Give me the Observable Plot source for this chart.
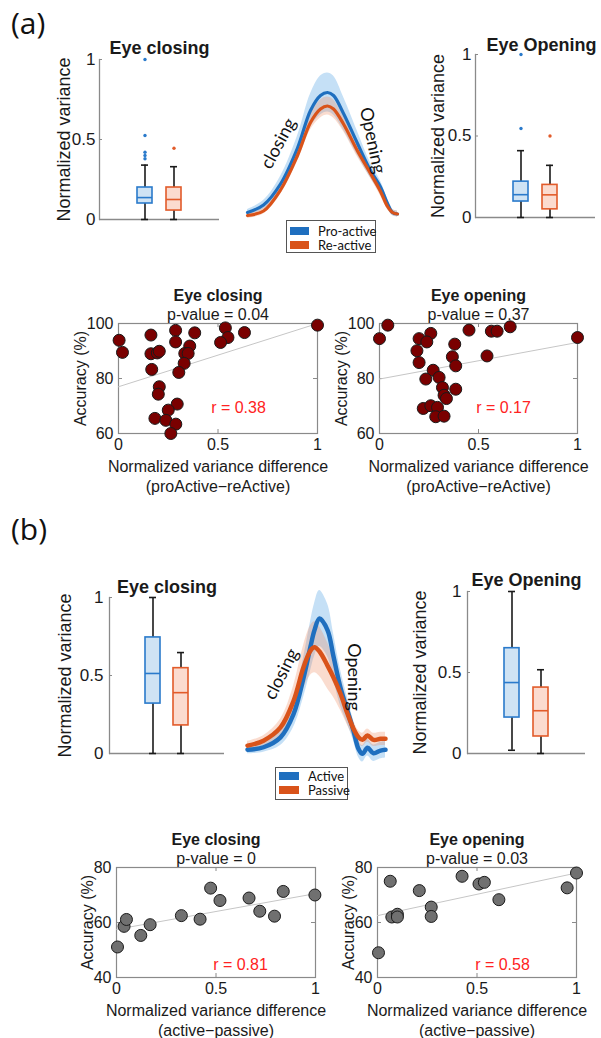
<!DOCTYPE html>
<html><head><meta charset="utf-8">
<script src="https://cdn.jsdelivr.net/npm/d3@7"></script>
<script src="https://cdn.jsdelivr.net/npm/@observablehq/plot@0.6"></script>
<style>
body{margin:0;background:#fff;}
#fig{position:relative;width:601px;height:1038px;overflow:hidden;background:#fff;font-family:"Liberation Sans",Arial,sans-serif;}
.plabel{position:absolute;font-family:"Open Sans",sans-serif;font-size:30px;line-height:30px;color:#111;}
.legend{position:absolute;border:1px solid #555;background:#fff;box-sizing:border-box;font-family:Lato,sans-serif;font-size:13px;color:#111;}
.legend .sw{position:absolute;height:8px;}
.legend .tx{position:absolute;line-height:14px;white-space:nowrap;}
</style></head>
<body><div id="fig"></div>
<script>
// ---------------- DATA ----------------
// (a) groups
const groupsA = ["Pro-active", "Re-active"];
// (a) Eye closing box statistics
const aCloseQ1 = [0.100, 0.056];
const aCloseMedian = [0.137, 0.125];
const aCloseQ3 = [0.200, 0.200];
const aCloseLow = [0, 0];
const aCloseHigh = [0.34, 0.33];
const aCloseOutPro = [0.38, 0.40, 0.42, 0.525, 1.0];
const aCloseOutRe = [0.445];
// (a) Eye Opening box statistics
const aOpenQ1 = [0.098, 0.050];
const aOpenMedian = [0.140, 0.139];
const aOpenQ3 = [0.220, 0.200];
const aOpenLow = [0, 0];
const aOpenHigh = [0.41, 0.32];
const aOpenOutPro = [0.546, 1.0];
const aOpenOutRe = [0.50];
// (a) mean eyelid trace
const aTime = [0, 16, 33, 50, 63, 73, 80, 86, 96, 110, 123, 133, 140, 145, 150];
const aProMean = [0.02, 0.07, 0.21, 0.45, 0.70, 0.80, 0.82, 0.80, 0.68, 0.48, 0.30, 0.19, 0.08, 0.02, 0.01];
const aProSpread = [0.02, 0.03, 0.05, 0.08, 0.11, 0.13, 0.13, 0.13, 0.11, 0.08, 0.05, 0.04, 0.03, 0.02, 0.02];
const aReMean = [0.00, 0.03, 0.17, 0.40, 0.62, 0.71, 0.73, 0.71, 0.61, 0.43, 0.28, 0.16, 0.06, 0.02, 0.01];
const aReSpread = [0.02, 0.02, 0.03, 0.04, 0.05, 0.06, 0.06, 0.06, 0.05, 0.04, 0.03, 0.03, 0.02, 0.02, 0.02];
// (a) scatter: Eye closing
const aCloseDiff = [0.003, 0.02, 0.163, 0.163, 0.195, 0.205, 0.167, 0.287, 0.287, 0.383, 0.358, 0.333, 0.35, 0.33, 0.303, 0.537, 0.55, 0.513, 0.633, 1.0, 0.205, 0.2, 0.295, 0.25, 0.183, 0.238, 0.288, 0.263];
const aCloseAcc = [93.9, 89.5, 95.8, 89.0, 89.3, 89.9, 83.3, 97.5, 93.3, 96.6, 91.8, 89.1, 89.1, 85.5, 82.2, 98.4, 94.9, 93.1, 96.7, 99.4, 77.0, 74.3, 70.7, 68.5, 65.5, 64.8, 63.4, 60.0];
const aCloseFitX = [0, 1];
const aCloseFitY = [77.0, 100.0];
// (a) scatter: Eye opening
const aOpenDiff = [0, 0.042, 0.2, 0.259, 0.239, 0.189, 0.2, 0.38, 0.368, 0.385, 0.452, 0.565, 0.594, 0.66, 0.543, 1.0, 0.271, 0.234, 0.301, 0.318, 0.385, 0.326, 0.338, 0.221, 0.259, 0.293, 0.284, 0.326];
const aOpenAcc = [94.5, 99.4, 94.5, 96.4, 93.3, 90.1, 85.8, 92.5, 87.9, 84.6, 97.6, 97.2, 97.2, 98.8, 88.2, 94.9, 83.0, 79.8, 80.4, 76.7, 76.1, 73.9, 72.7, 69.1, 70.1, 69.5, 66.1, 66.3];
const aOpenFitX = [0, 1];
const aOpenFitY = [79.8, 93.1];

// (b) groups
const groupsB = ["Active", "Passive"];
const bCloseQ1 = [0.32, 0.18];
const bCloseMedian = [0.513, 0.39];
const bCloseQ3 = [0.744, 0.547];
const bCloseLow = [0, 0];
const bCloseHigh = [1.0, 0.647];
const bOpenQ1 = [0.222, 0.105];
const bOpenMedian = [0.438, 0.264];
const bOpenQ3 = [0.65, 0.407];
const bOpenLow = [0.02, 0];
const bOpenHigh = [1.0, 0.517];
// (b) mean eyelid trace
const bTime = [0, 16, 33, 46, 56, 63, 67, 72, 80, 86, 93, 100, 106, 111, 115, 120, 126, 133, 138];
const bActiveMean = [0.035, 0.05, 0.11, 0.25, 0.47, 0.66, 0.76, 0.83, 0.76, 0.60, 0.41, 0.27, 0.15, 0.04, 0.01, 0.047, 0.014, 0.03, 0.035];
const bActiveSpread = [0.025, 0.03, 0.05, 0.08, 0.12, 0.15, 0.16, 0.17, 0.16, 0.14, 0.11, 0.08, 0.06, 0.05, 0.05, 0.05, 0.05, 0.05, 0.05];
const bPassiveMean = [0.06, 0.09, 0.17, 0.33, 0.535, 0.636, 0.656, 0.63, 0.545, 0.473, 0.374, 0.253, 0.162, 0.111, 0.095, 0.121, 0.095, 0.101, 0.101];
const bPassiveSpread = [0.025, 0.03, 0.05, 0.09, 0.13, 0.15, 0.155, 0.15, 0.14, 0.12, 0.10, 0.07, 0.05, 0.04, 0.04, 0.04, 0.04, 0.04, 0.04];
// (b) scatter
const bCloseDiff = [0.005, 0.038, 0.05, 0.122, 0.169, 0.326, 0.42, 0.473, 0.52, 0.666, 0.72, 0.794, 0.838, 0.997];
const bCloseAcc = [51.1, 58.6, 61.1, 55.3, 59.2, 62.5, 61.2, 72.5, 68.0, 68.9, 64.1, 62.3, 71.3, 70.0];
const bCloseFitX = [0, 1];
const bCloseFitY = [57.5, 70.5];
const bOpenDiff = [0.005, 0.064, 0.072, 0.1, 0.1, 0.21, 0.27, 0.27, 0.425, 0.51, 0.537, 0.61, 0.953, 1.0];
const bOpenAcc = [49.0, 75.0, 62.0, 63.0, 62.0, 71.6, 65.6, 62.2, 76.8, 74.0, 74.6, 68.3, 72.6, 78.0];
const bOpenFitX = [0, 1];
const bOpenFitY = [62.5, 78.0];

const boxTicks = [0, 0.5, 1];
const diffTicks = [0, 0.5, 1];
const accTicksA = [60, 80, 100];
const accTicksB = [40, 60, 80];

// ---------------- STYLE ----------------
const AX = "#8a8a8a";
const INK = "#1a1a1a";
const BLUE = "#1f6fbf", ORANGE = "#d9531a";
const BOX_FILL = ["#cfe3f4", "#fbdbcf"], BOX_STROKE = ["#2a7acb", "#e25b2a"];
const FONT = "'Liberation Sans', Arial, sans-serif";
const fmt = d => String(d);
const fig = document.getElementById("fig");
function place(node, left, top) {
  node.style.position = "absolute"; node.style.left = left + "px"; node.style.top = top + "px";
  fig.appendChild(node);
}

function boxPlot(o) {
  const rows = o.groups.map((g, i) => ({g, q1: o.q1[i], med: o.med[i], q3: o.q3[i], lo: o.lo[i], hi: o.hi[i], fill: BOX_FILL[i], stroke: BOX_STROKE[i]}));
  const outs = o.outliers.flatMap((arr, i) => arr.map(v => ({g: o.groups[i], v, c: BOX_STROKE[i]})));
  const fw = o.width - o.ml - o.mr;
  return Plot.plot({
    width: o.width, height: o.height,
    marginLeft: o.ml, marginRight: o.mr, marginTop: o.mt, marginBottom: o.mb,
    style: {background: "transparent", fontFamily: FONT, color: INK, overflow: "visible", maxWidth: "none"},
    x: {type: "band", domain: o.groups, paddingInner: 0.47, paddingOuter: 1.24, axis: null},
    y: {domain: [0, 1]},
    marks: [
      Plot.ruleY([0], {stroke: AX, strokeWidth: 1.3}),
      Plot.frame({anchor: "left", stroke: AX, strokeWidth: 1.3}),
      Plot.tickY(boxTicks, {y: d => d, insetRight: fw - 3, stroke: AX}),
      Plot.axisY(boxTicks, {tickSize: 0, tickPadding: o.tickPad, tickFormat: fmt, fontSize: 17, label: null}),
      Plot.ruleX(rows, {x: "g", y1: "lo", y2: "q1", stroke: INK, strokeWidth: 1.6}),
      Plot.ruleX(rows, {x: "g", y1: "q3", y2: "hi", stroke: INK, strokeWidth: 1.6}),
      Plot.tickY(rows, {x: "g", y: "lo", insetLeft: 4, insetRight: 4, stroke: INK, strokeWidth: 1.6}),
      Plot.tickY(rows, {x: "g", y: "hi", insetLeft: 4, insetRight: 4, stroke: INK, strokeWidth: 1.6}),
      Plot.barY(rows, {x: "g", y1: "q1", y2: "q3", fill: "fill", stroke: "stroke", strokeWidth: 1.6}),
      Plot.tickY(rows, {x: "g", y: "med", stroke: "stroke", strokeWidth: 1.6}),
      Plot.dot(outs, {x: "g", y: "v", r: 1.7, fill: "c", stroke: null}),
      Plot.text([o.title], {text: d => d, frameAnchor: "top", dx: o.titleDx, dy: o.titleDy, fontWeight: "bold", fontSize: 18, lineAnchor: "middle"}),
      Plot.text(["Normalized variance"], {text: d => d, frameAnchor: "left", rotate: -90, dx: o.ylabDx, fontSize: 18, lineAnchor: "middle", textAnchor: "middle"})
    ]
  });
}

function curvePlot(o) {
  const rows = o.t.map((t, i) => ({t, a: o.s1[i], ad: o.d1[i], b: o.s2[i], bd: o.d2[i]}));
  return Plot.plot({
    width: o.width, height: o.height,
    marginLeft: o.ml, marginRight: o.mr, marginTop: o.mt, marginBottom: o.mb,
    style: {background: "transparent", fontFamily: FONT, color: INK, overflow: "visible", maxWidth: "none"},
    x: {domain: [0, o.tmax], axis: null},
    y: {domain: [0, 1], axis: null},
    marks: [
      Plot.areaY(rows, {x: "t", y1: d => d.a - d.ad, y2: d => d.a + d.ad, fill: "#5aa6e6", fillOpacity: 0.35, curve: "catmull-rom"}),
      Plot.areaY(rows, {x: "t", y1: d => d.b - d.bd, y2: d => d.b + d.bd, fill: "#f08a60", fillOpacity: 0.3, curve: "catmull-rom"}),
      Plot.line(rows, {x: "t", y: "a", stroke: BLUE, strokeWidth: o.lw, curve: "catmull-rom"}),
      Plot.line(rows, {x: "t", y: "b", stroke: ORANGE, strokeWidth: o.lw, curve: "catmull-rom"}),
      Plot.text(["closing"], {text: d => d, frameAnchor: "middle", dx: o.cdx, dy: o.cdy, rotate: o.crot, fontFamily: "Lato", fontSize: 18, fill: "#111"}),
      Plot.text(["Opening"], {text: d => d, frameAnchor: "middle", dx: o.odx, dy: o.ody, rotate: o.orot, fontFamily: "Lato", fontSize: 18, fill: "#111"})
    ]
  });
}

function scatterPlot(o) {
  const pts = o.xs.map((x, i) => ({x, y: o.ys[i]}));
  const fit = o.fitX.map((x, i) => ({x, y: o.fitY[i]}));
  const fw = o.width - o.ml - o.mr, fh = o.height - o.mt - o.mb;
  return Plot.plot({
    width: o.width, height: o.height,
    marginLeft: o.ml, marginRight: o.mr, marginTop: o.mt, marginBottom: o.mb,
    style: {background: "transparent", fontFamily: FONT, color: INK, overflow: "visible", maxWidth: "none"},
    x: {domain: [0, 1]},
    y: {domain: o.ydom},
    marks: [
      Plot.frame({stroke: AX, strokeWidth: 1.2}),
      Plot.tickX(diffTicks, {x: d => d, insetTop: fh - 4, stroke: AX}),
      Plot.tickX(diffTicks, {x: d => d, insetBottom: fh - 4, stroke: AX}),
      Plot.tickY(o.yticks, {y: d => d, insetRight: fw - 4, stroke: AX}),
      Plot.tickY(o.yticks, {y: d => d, insetLeft: fw - 4, stroke: AX}),
      Plot.line(fit, {x: "x", y: "y", stroke: "#c6c6c6", strokeWidth: 1}),
      Plot.dot(pts, {x: "x", y: "y", r: 6, fill: o.fill, stroke: INK, strokeWidth: 1}),
      Plot.axisX(diffTicks, {tickSize: 0, tickPadding: 5, tickFormat: fmt, fontSize: 16, label: null}),
      Plot.axisY(o.yticks, {tickSize: 0, tickPadding: 5, tickFormat: fmt, fontSize: 16, label: null}),
      Plot.text([o.title], {text: d => d, frameAnchor: "top", dy: -28, fontWeight: "bold", fontSize: 16, lineAnchor: "middle"}),
      Plot.text([o.pval], {text: d => d, frameAnchor: "top", dy: -9, fontSize: 16, lineAnchor: "middle"}),
      Plot.text([o.r], {text: d => d, frameAnchor: "top-left", dx: o.rdx, dy: o.rdy, fill: "#ff2222", fontSize: 16, textAnchor: "middle", lineAnchor: "middle"}),
      Plot.text([o.xlabel], {text: d => d, frameAnchor: "bottom", dy: 24, lineAnchor: "top", fontSize: 16, lineHeight: 1.25}),
      Plot.text(["Accuracy (%)"], {text: d => d, frameAnchor: "left", rotate: -90, dx: o.ylabDx, fontSize: 16, lineAnchor: "middle", textAnchor: "middle"})
    ]
  });
}

function legend(names, colors, left, top, width, height, swLeft, swW, rowYs, txLeft) {
  const div = document.createElement("div");
  div.className = "legend";
  div.style.width = width + "px"; div.style.height = height + "px";
  names.forEach((n, i) => {
    const sw = document.createElement("div");
    sw.className = "sw"; sw.style.left = swLeft + "px"; sw.style.width = swW + "px";
    sw.style.top = (rowYs[i] - 4) + "px"; sw.style.background = colors[i];
    const tx = document.createElement("div");
    tx.className = "tx"; tx.style.left = txLeft + "px"; tx.style.top = (rowYs[i] - 7) + "px";
    tx.textContent = n;
    div.appendChild(sw); div.appendChild(tx);
  });
  place(div, left, top);
}

function panelLabel(txt, left, top) {
  const d = document.createElement("div");
  d.className = "plabel"; d.textContent = txt;
  place(d, left, top);
}

// ---------------- PANEL (a) ----------------
panelLabel("(a)", 11, 8);
place(boxPlot({groups: groupsA, q1: aCloseQ1, med: aCloseMedian, q3: aCloseQ3, lo: aCloseLow, hi: aCloseHigh,
  outliers: [aCloseOutPro, aCloseOutRe], title: "Eye closing",
  width: 240, height: 250, ml: 99, mr: 21, mt: 59, mb: 31, titleDx: 0, titleDy: -11, ylabDx: -35, tickPad: 4}), 0, 0);
place(boxPlot({groups: groupsA, q1: aOpenQ1, med: aOpenMedian, q3: aOpenQ3, lo: aOpenLow, hi: aOpenHigh,
  outliers: [aOpenOutPro, aOpenOutRe], title: "Eye Opening",
  width: 241, height: 250, ml: 115, mr: 6, mt: 54, mb: 33, titleDx: 6, titleDy: -9, ylabDx: -37, tickPad: 4}), 360, 0);
place(curvePlot({t: aTime, s1: aProMean, d1: aProSpread, s2: aReMean, d2: aReSpread, tmax: 150, lw: 3.2,
  width: 185, height: 190, ml: 17, mr: 18, mt: 25, mb: 15,
  cdx: -44, cdy: 3, crot: -62, odx: 50, ody: 0, orot: 78}), 230, 40);
legend(groupsA, [BLUE, ORANGE], 286, 220, 90, 33, 3, 19, [10, 24], 31);

place(scatterPlot({xs: aCloseDiff, ys: aCloseAcc, fitX: aCloseFitX, fitY: aCloseFitY, ydom: [60, 100], yticks: accTicksA,
  fill: "#7a0000", title: "Eye closing", pval: "p-value = 0.04", r: "r = 0.38",
  xlabel: "Normalized variance difference\n(proActive\u2212reActive)",
  width: 270, height: 215, ml: 58, mr: 13, mt: 38, mb: 67, rdx: 120, rdy: 84, ylabDx: -38}), 60, 285);
place(scatterPlot({xs: aOpenDiff, ys: aOpenAcc, fitX: aOpenFitX, fitY: aOpenFitY, ydom: [60, 100], yticks: accTicksA,
  fill: "#7a0000", title: "Eye opening", pval: "p-value = 0.37", r: "r = 0.17",
  xlabel: "Normalized variance difference\n(proActive\u2212reActive)",
  width: 270, height: 215, ml: 58, mr: 14, mt: 38, mb: 67, rdx: 124, rdy: 84, ylabDx: -38}), 321, 285);

// ---------------- PANEL (b) ----------------
panelLabel("(b)", 11, 514);
place(boxPlot({groups: groupsB, q1: bCloseQ1, med: bCloseMedian, q3: bCloseQ3, lo: bCloseLow, hi: bCloseHigh,
  outliers: [[], []], title: "Eye closing",
  width: 240, height: 230, ml: 109, mr: 16, mt: 57, mb: 17, titleDx: 0, titleDy: -10, ylabDx: -44, tickPad: 6}), 0, 540);
place(boxPlot({groups: groupsB, q1: bOpenQ1, med: bOpenMedian, q3: bOpenQ3, lo: bOpenLow, hi: bOpenHigh,
  outliers: [[], []], title: "Eye Opening",
  width: 241, height: 240, ml: 107, mr: 16, mt: 61, mb: 17, titleDx: 0, titleDy: -11, ylabDx: -47, tickPad: 6}), 360, 530);
place(curvePlot({t: bTime, s1: bActiveMean, d1: bActiveSpread, s2: bPassiveMean, d2: bPassiveSpread, tmax: 138, lw: 4.5,
  width: 170, height: 185, ml: 17, mr: 15, mt: 10, mb: 10,
  cdx: -35, cdy: 1, crot: -63, odx: 37, ody: 4, orot: 90}), 230, 580);
legend(groupsB, [BLUE, ORANGE], 275, 767, 73, 33, 3, 20, [8, 22], 32);

place(scatterPlot({xs: bCloseDiff, ys: bCloseAcc, fitX: bCloseFitX, fitY: bCloseFitY, ydom: [40, 80], yticks: accTicksB,
  fill: "#707070", title: "Eye closing", pval: "p-value = 0", r: "r = 0.81",
  xlabel: "Normalized variance difference\n(active\u2212passive)",
  width: 270, height: 213, ml: 58, mr: 13, mt: 42, mb: 61, rdx: 124, rdy: 97, ylabDx: -29}), 58, 825);
place(scatterPlot({xs: bOpenDiff, ys: bOpenAcc, fitX: bOpenFitX, fitY: bOpenFitY, ydom: [40, 80], yticks: accTicksB,
  fill: "#707070", title: "Eye opening", pval: "p-value = 0.03", r: "r = 0.58",
  xlabel: "Normalized variance difference\n(active\u2212passive)",
  width: 270, height: 213, ml: 58, mr: 13, mt: 42, mb: 61, rdx: 125, rdy: 97, ylabDx: -29}), 319, 825);
</script>
</body></html>
